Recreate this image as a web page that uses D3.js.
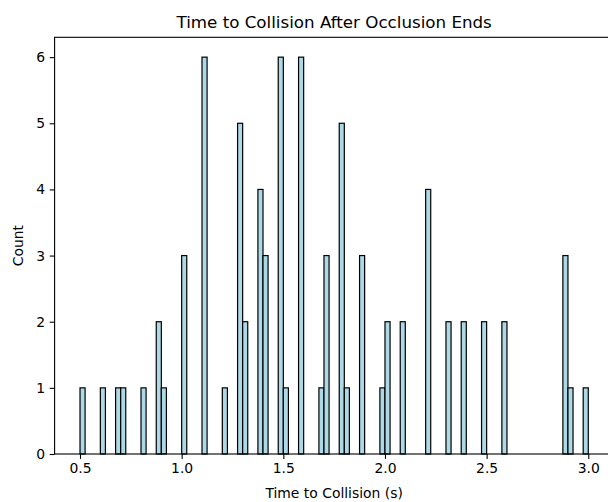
<!DOCTYPE html>
<html>
<head>
<meta charset="utf-8">
<script src="https://cdn.jsdelivr.net/npm/d3@7"></script>
<style>
  html, body { margin: 0; padding: 0; background: #fff; }
  svg { display: block; }
  text { font-family: "DejaVu Sans", sans-serif; fill: #000; }
</style>
</head>
<body>
<svg id="chart" width="608" height="502"></svg>
<script>
// Histogram bins (left edge, seconds) and counts; bin width 0.025 s
const binStarts = [0.5, 0.6, 0.675, 0.7, 0.8, 0.875, 0.9, 1.0, 1.1, 1.2, 1.275, 1.3, 1.375, 1.4,
  1.475, 1.5, 1.575, 1.675, 1.7, 1.775, 1.8, 1.875, 1.975, 2.0, 2.075, 2.2, 2.3, 2.375,
  2.475, 2.575, 2.875, 2.9, 2.975];
const counts = [1, 1, 1, 1, 1, 2, 1, 3, 6, 1, 5, 2, 4, 3,
  6, 1, 6, 1, 3, 5, 1, 3, 1, 2, 2, 4, 2, 2,
  2, 2, 3, 1, 1];
const binWidth = 0.025;
const xTicks = [0.5, 1.0, 1.5, 2.0, 2.5, 3.0];
const yTicks = [0, 1, 2, 3, 4, 5, 6];
const titleText = "Time to Collision After Occlusion Ends";
const xLabel = "Time to Collision (s)";
const yLabel = "Count";

(function () {
  const svg = d3.select("#chart");
  const pL = 54.6, pR = 613.7, pT = 37.3, pB = 454;

  const x = d3.scaleLinear().domain([0.375, 3.125]).range([pL, pR]);
  const y = d3.scaleLinear().domain([0, 6.3]).range([pB, pT]);

  // bars
  svg.append("g").selectAll("rect")
    .data(binStarts.map((s, i) => ({ s, c: counts[i] })))
    .join("rect")
    .attr("x", d => x(d.s))
    .attr("y", d => y(d.c))
    .attr("width", d => x(d.s + binWidth) - x(d.s))
    .attr("height", d => y(0) - y(d.c))
    .attr("fill", "#add8e6")
    .attr("stroke", "#000")
    .attr("stroke-width", 1.2);

  // axes
  const xAxis = d3.axisBottom(x).tickValues(xTicks).tickFormat(d3.format(".1f")).tickSizeOuter(0).tickSize(4.9).tickPadding(4.5);
  const yAxis = d3.axisLeft(y).tickValues(yTicks).tickFormat(d3.format("d")).tickSizeOuter(0).tickSize(4.9).tickPadding(4.5);

  const gx = svg.append("g").attr("transform", `translate(0,${pB})`).call(xAxis);
  const gy = svg.append("g").attr("transform", `translate(${pL},0)`).call(yAxis);
  [gx, gy].forEach(g => {
    g.select(".domain").remove();
    g.selectAll(".tick line").attr("stroke", "#000").attr("stroke-width", 1.1);
    g.selectAll(".tick text").style("font-family", "DejaVu Sans").style("font-size", "13.9px").attr("fill", "#000");
  });

  // frame (spines)
  svg.append("rect")
    .attr("x", pL).attr("y", pT)
    .attr("width", pR - pL).attr("height", pB - pT)
    .attr("fill", "none").attr("stroke", "#000").attr("stroke-width", 1.1);

  // title
  svg.append("text")
    .attr("x", (pL + pR) / 2).attr("y", 28)
    .attr("text-anchor", "middle")
    .style("font-size", "16.7px")
    .text(titleText);

  // x label
  svg.append("text")
    .attr("x", (pL + pR) / 2).attr("y", 498)
    .attr("text-anchor", "middle")
    .style("font-size", "13.9px")
    .text(xLabel);

  // y label
  svg.append("text")
    .attr("transform", `translate(23,${(pT + pB) / 2}) rotate(-90)`)
    .attr("text-anchor", "middle")
    .style("font-size", "13.9px")
    .text(yLabel);
})();
</script>
</body>
</html>
